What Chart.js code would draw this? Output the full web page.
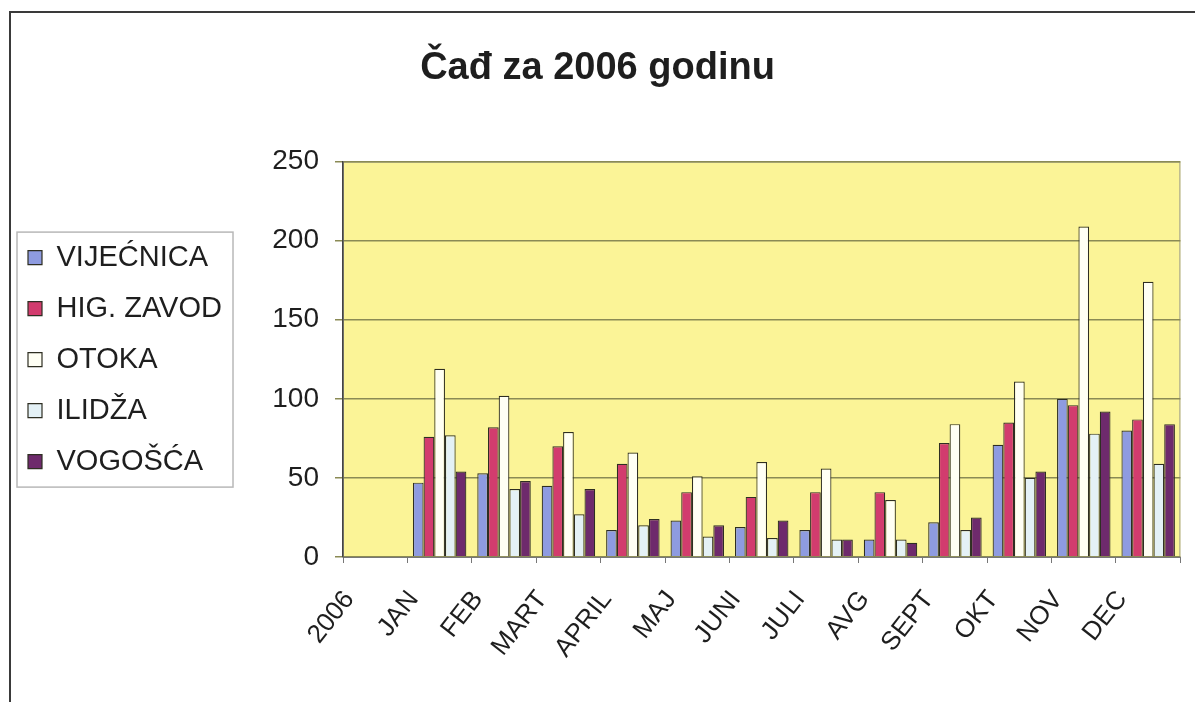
<!DOCTYPE html>
<html>
<head>
<meta charset="utf-8">
<script src="https://cdn.jsdelivr.net/npm/chart.js@4.4.1/dist/chart.umd.min.js"></script>
<style>
  html, body { margin: 0; padding: 0; background: #fff; }
  #wrap { position: relative; width: 1195px; height: 702px; overflow: hidden; }
  #frame { position: absolute; left: 9px; top: 11px; width: 1400px; height: 900px;
           border-left: 2px solid #3a3a3a; border-top: 2px solid #3a3a3a; }
  canvas { position: absolute; left: 0; top: 0; }
</style>
</head>
<body>
<div id="wrap">
  <div id="frame"></div>
  <canvas id="chart" width="1195" height="702"></canvas>
</div>
<script>
const months = ["2006", "JAN", "FEB", "MART", "APRIL", "MAJ", "JUNI", "JULI", "AVG", "SEPT", "OKT", "NOV", "DEC"];
const seriesNames = ["VIJEĆNICA", "HIG. ZAVOD", "OTOKA", "ILIDŽA", "VOGOŠĆA"];
const vijecnica = [null, 47, 53, 45, 17, 23, 19, 17, 11, 22, 71, 100, 80];
const higZavod  = [null, 76, 82, 70, 59, 41, 38, 41, 41, 72, 85, 96, 87];
const otoka     = [null, 119, 102, 79, 66, 51, 60, 56, 36, 84, 111, 209, 174];
const ilidza    = [null, 77, 43, 27, 20, 13, 12, 11, 11, 17, 50, 78, 59];
const vogosca   = [null, 54, 48, 43, 24, 20, 23, 11, 9, 25, 54, 92, 84];
const yTicks = [0, 50, 100, 150, 200, 250];

const colors = ["#8e9be0", "#d23c6e", "#fffff4", "#e4f1f6", "#6e2a6c"];
const font = "'Liberation Sans', Arial, sans-serif";

// yellow plot background + legend border
const plotDecor = {
  id: 'plotDecor',
  beforeDraw(chart) {
    const {ctx, chartArea: a} = chart;
    ctx.save();
    ctx.fillStyle = '#fbf497';
    ctx.fillRect(a.left, a.top, a.right - a.left, a.bottom - a.top);
    ctx.strokeStyle = '#9a9a8a';
    ctx.lineWidth = 1;
    ctx.strokeRect(a.left + 0.5, a.top + 0.5, a.right - a.left - 1, a.bottom - a.top - 1);
    ctx.restore();
  },
  afterDraw(chart) {
    const hb = chart.legend.legendHitBoxes;
    if (!hb || !hb.length) return;
    const ctx = chart.ctx;
    const top = hb[0].top - 11;
    const bottom = hb[hb.length - 1].top + hb[hb.length - 1].height + 11;
    ctx.save();
    ctx.strokeStyle = '#b8b8b8';
    ctx.lineWidth = 1.5;
    ctx.strokeRect(17, top, 216, bottom - top);
    ctx.restore();
  }
};

const data = [vijecnica, higZavod, otoka, ilidza, vogosca];

new Chart(document.getElementById('chart'), {
  type: 'bar',
  data: {
    labels: months,
    datasets: seriesNames.map((name, i) => ({
      label: name,
      data: data[i],
      backgroundColor: colors[i],
      borderColor: '#2e2e22',
      borderWidth: 1.2,
      categoryPercentage: 0.83,
      barPercentage: 1.0
    }))
  },
  options: {
    responsive: false,
    animation: false,
    layout: { padding: { left: 6, right: 6, top: 0, bottom: 0 } },
    plugins: {
      title: {
        display: true,
        text: 'Čađ za 2006 godinu',
        color: '#1e1e1e',
        font: { family: font, size: 38, weight: 'bold' },
        padding: { top: 46, bottom: 70 }
      },
      legend: {
        position: 'left',
        title: { display: true, text: '', font: { size: 1 }, padding: { top: 0, bottom: 16 } },
        labels: {
          color: '#1e1e1e',
          font: { family: font, size: 29 },
          boxWidth: 14,
          boxHeight: 14,
          padding: 22
        }
      },
      tooltip: { enabled: false }
    },
    scales: {
      x: {
        grid: { drawOnChartArea: false, offset: true, tickLength: 6, color: '#777', lineWidth: 1 },
        border: { color: '#777', width: 1 },
        ticks: {
          color: '#1e1e1e',
          font: { family: font, size: 26 },
          minRotation: 52,
          maxRotation: 52,
          padding: 22,
          labelOffset: -26
        },
        afterFit(scale) { scale.height = 145; }
      },
      y: {
        min: 0,
        max: 250,
        afterBuildTicks(scale) { scale.ticks = yTicks.map(v => ({ value: v })); },
        grid: { color: '#8a8a55', lineWidth: 1.5, tickLength: 8 },
        border: { color: '#444', width: 1.5 },
        ticks: {
          color: '#1e1e1e',
          font: { family: font, size: 28 },
          padding: 16
        },
        afterFit(scale) { scale.width = 343 - 6 - scale.chart.legend.width; }
      }
    }
  },
  plugins: [plotDecor]
});
</script>
</body>
</html>
